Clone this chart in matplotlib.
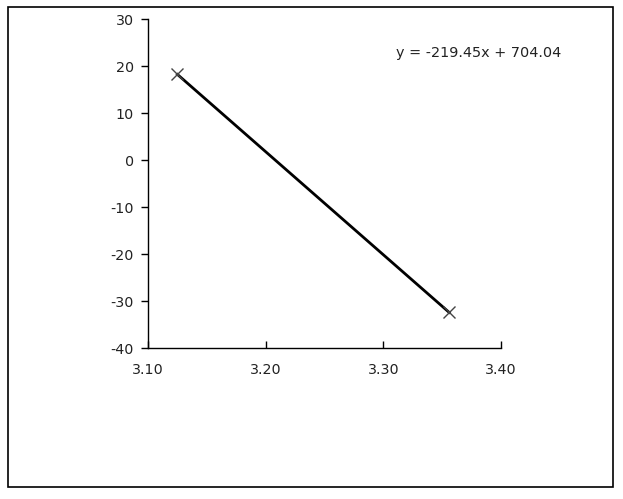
import matplotlib
matplotlib.use("Agg")
import matplotlib.pyplot as plt
from matplotlib.patches import Rectangle

x_vals = [3.125, 3.356]
y_vals = [18.26, -32.43]
x_ticks = [3.10, 3.20, 3.30, 3.40]
y_ticks = [30, 20, 10, 0, -10, -20, -30, -40]
equation = "y = -219.45x + 704.04"

plt.rcParams['font.family'] = ['DejaVu Sans']
fig = plt.figure(figsize=(6.23, 4.99), dpi=100)
ax = fig.add_axes([148/623, 1-348/499, (501-148)/623, (348-19.3)/499])

ax.plot(x_vals, y_vals, color='black', lw=2.0, zorder=2)
ax.plot(x_vals, y_vals, ls='none', marker='x', ms=8, mew=1.0, color='#444444', zorder=3)

ax.set_xlim(3.10, 3.40)
ax.set_ylim(-40, 30)
ax.set_xticks(x_ticks)
ax.set_xticklabels([f"{v:.2f}" for v in x_ticks])
ax.set_yticks(y_ticks)
ax.set_yticklabels([str(v) for v in y_ticks])
ax.spines['top'].set_visible(False)
ax.spines['right'].set_visible(False)
for s in ['left', 'bottom']:
    ax.spines[s].set_linewidth(1.0)
ax.tick_params(axis='x', direction='in', length=5, width=1, labelsize=10.3, pad=11,
               colors='black', labelcolor='#222222')
ax.tick_params(axis='y', direction='out', length=5, width=1, labelsize=10.3, pad=5,
               labelcolor='#222222')
ax.text(396/623, 1-53/499, equation, transform=fig.transFigure, fontsize=10.4,
        ha='left', va='center', color='#222222')

fig.patches.append(Rectangle((8/623, 1-487/499), (613-8)/623, (487-7)/499,
                             transform=fig.transFigure, fill=False,
                             edgecolor='black', lw=1.2))
fig.savefig("out.png", dpi=100)
